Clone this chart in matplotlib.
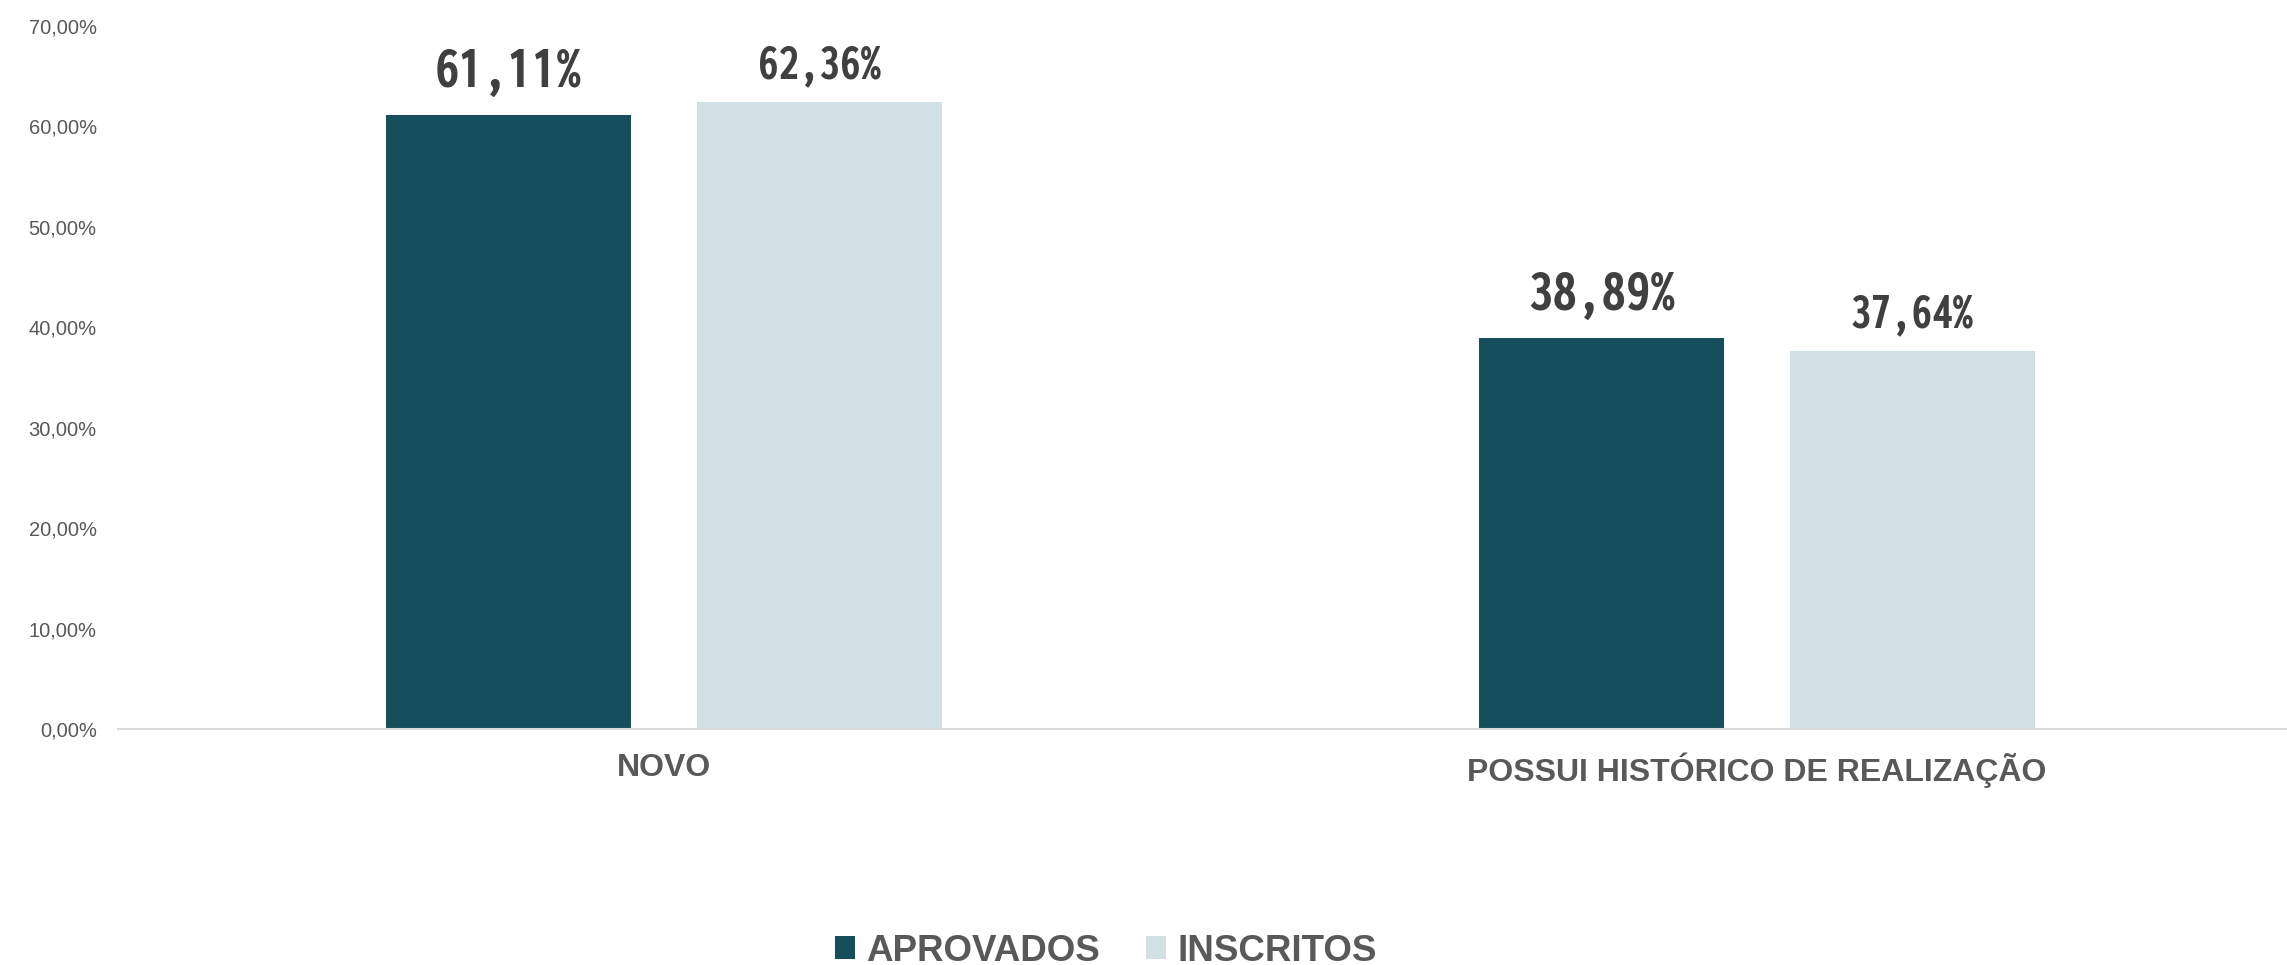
import matplotlib
matplotlib.use("Agg")
import os
import re
import matplotlib.pyplot as plt
from matplotlib import font_manager as fm
from matplotlib.patches import Patch
import numpy as np

categories = ["NOVO", "POSSUI HISTÓRICO DE REALIZAÇÃO"]
series_names = ["APROVADOS", "INSCRITOS"]
aprovados = [0.6111, 0.3889]
inscritos = [0.6236, 0.3764]
yticks = [0.0, 0.1, 0.2, 0.3, 0.4, 0.5, 0.6, 0.7]

dark = "#164F5C"
light = "#D1E0E4"
txt = "#595959"
valtxt = "#404040"

# pick a condensed heavy font if one is installed
files = sorted({f.fname for f in fm.fontManager.ttflist})
def base_of(f):
    return os.path.basename(f)
regexes = [r"(^|[-_])Condensed-?ExtraBold", r"(^|[-_])Condensed-?Black",
           r"(^|[-_])Condensed-?Bold", r"Narrow-?Bold",
           r"ExtraCondensed-?Black", r"ExtraCondensed-?ExtraBold",
           r"ExtraCondensed-?Bold"]
val_fp = None
for rx in regexes:
    hits = [f for f in files if re.search(rx, base_of(f), re.I)
            and "italic" not in f.lower() and "mono" not in f.lower()
            and "serif" not in base_of(f).lower() and "Semi" not in base_of(f)]
    hits.sort(key=lambda f: (0 if "NotoSans-" in base_of(f) else 1, f))
    if hits:
        val_fp = hits[0]
        break

names = {f.name for f in fm.fontManager.ttflist}
base = "Liberation Sans" if "Liberation Sans" in names else "DejaVu Sans"
plt.rcParams["font.family"] = [base, "DejaVu Sans"]

fig = plt.figure(figsize=(22.87, 9.65), dpi=100)
ax = fig.add_axes([117.5 / 2287, 1 - 729.3 / 965, 2186 / 2287, (729.3 - 25.5) / 965])

x = np.arange(len(categories))
w = 0.2243
off = 0.1423
ax.bar(x - off, aprovados, w, color=dark, label=series_names[0], zorder=2)
ax.bar(x + off, inscritos, w, color=light, label=series_names[1], zorder=2)

ax.set_xlim(-0.5, 1.5)
ax.set_ylim(0, 0.7)
ax.set_yticks(yticks)
ax.set_yticklabels([f"{v*100:.2f}%".replace(".", ",") for v in yticks],
                   fontsize=14.5, color=txt)
ax.set_xticks(x)
ax.set_xticklabels(categories, fontsize=23, fontweight="bold", color=txt)
ax.tick_params(axis="y", length=0, pad=15)
ax.tick_params(axis="x", length=0, pad=17)
for s in ["top", "right", "left"]:
    ax.spines[s].set_visible(False)
ax.spines["bottom"].set_color("#D9D9D9")
ax.spines["bottom"].set_linewidth(1.5)

if val_fp:
    vkw = dict(fontproperties=fm.FontProperties(fname=val_fp))
else:
    vkw = dict(family="DejaVu Sans", weight="bold")

for xi, v in zip(x, aprovados):
    t = ax.annotate(f"{v*100:.2f}%".replace(".", ","), (xi - off, v),
                    xytext=(0, 20.3), textcoords="offset points",
                    ha="center", va="baseline", color=valtxt, **vkw)
    t.set_fontsize(44 if val_fp else 38)
for xi, v in zip(x, inscritos):
    t = ax.annotate(f"{v*100:.2f}%".replace(".", ","), (xi + off, v),
                    xytext=(0, 17.0), textcoords="offset points",
                    ha="center", va="baseline", color=valtxt, **vkw)
    t.set_fontsize(37 if val_fp else 30)

handles = [Patch(facecolor=dark), Patch(facecolor=light)]
leg = fig.legend(handles, series_names, loc="center", bbox_to_anchor=(0.4836, 0.0145),
                 ncol=2, frameon=False, handlelength=0.55, handleheight=0.55,
                 handletextpad=0.3, columnspacing=1.25,
                 prop=dict(size=26.5, weight="bold"))
for t in leg.get_texts():
    t.set_color(txt)

fig.savefig("out.png", dpi=100)
